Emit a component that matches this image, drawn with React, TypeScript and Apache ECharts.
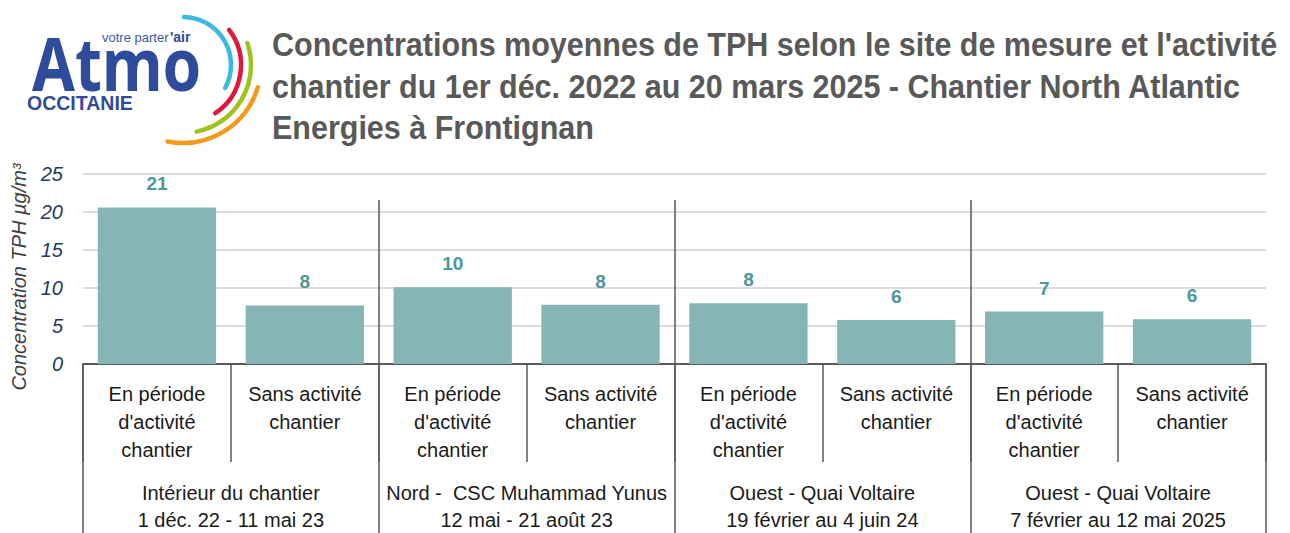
import React, { useEffect, useRef } from "react";
import * as echarts from "echarts";

const FONT = "'Liberation Sans', Arial, sans-serif";

const titleText =
  "Concentrations moyennes de TPH selon le site de mesure et l'activité\nchantier du 1er déc. 2022 au 20 mars 2025 - Chantier North Atlantic\nEnergies à Frontignan";

const subCategories = [
  "En période\nd'activité\nchantier",
  "Sans activité\nchantier",
  "En période\nd'activité\nchantier",
  "Sans activité\nchantier",
  "En période\nd'activité\nchantier",
  "Sans activité\nchantier",
  "En période\nd'activité\nchantier",
  "Sans activité\nchantier",
];

const groupLabels = [
  "Intérieur du chantier\n1 déc. 22 - 11 mai 23",
  "Nord -  CSC Muhammad Yunus\n12 mai - 21 août 23",
  "Ouest - Quai Voltaire\n19 février au 4 juin 24",
  "Ouest - Quai Voltaire\n7 février au 12 mai 2025",
];

const values = [20.6, 7.7, 10.1, 7.8, 8.0, 5.8, 6.9, 5.9];

const yMin = 0;
const yMax = 25;
const yStep = 5;

const yTitle = "Concentration TPH µg/m³";

export default function App() {
  const ref = useRef<HTMLDivElement>(null);

  useEffect(() => {
    if (!ref.current) return;
    const chart = echarts.init(ref.current, undefined, { renderer: "svg" });

    const logoArcs = [
      { cx: 183, cy: 65, r: 48, s: -1.55, e: 0.5, color: "#3db7e4" },
      { cx: 183, cy: 65, r: 58, s: -0.65, e: 0.98, color: "#e1183d" },
      { cx: 183, cy: 65, r: 68, s: -0.33, e: 1.37, color: "#9dc41d" },
      { cx: 183, cy: 65, r: 78, s: 0.29, e: 1.77, color: "#f39a1b" },
    ];

    const option: any = {
      animation: false,
      grid: [
        { left: 83, right: 24, top: 174, bottom: 169 },
        { left: 83, right: 24, top: 200, bottom: 169 },
      ],
      xAxis: [
        {
          type: "category",
          gridIndex: 0,
          data: subCategories,
          axisLine: { show: true, lineStyle: { color: "#595959", width: 2 } },
          axisTick: {
            show: true,
            length: 98,
            interval: 0,
            lineStyle: { color: "#595959", width: 1.5 },
          },
          axisLabel: {
            interval: 0,
            fontFamily: FONT,
            fontSize: 20,
            lineHeight: 28,
            color: "#1a1a1a",
            margin: 16,
          },
          splitLine: { show: false },
        },
        {
          type: "category",
          gridIndex: 1,
          data: groupLabels,
          axisLine: { show: false },
          axisTick: {
            show: true,
            length: 169,
            interval: 0,
            lineStyle: { color: "#595959", width: 1.5 },
          },
          axisLabel: {
            interval: 0,
            fontFamily: FONT,
            fontSize: 20,
            lineHeight: 27,
            color: "#1a1a1a",
            margin: 115,
          },
          splitLine: {
            show: true,
            interval: 0,
            showMinLine: false,
            showMaxLine: false,
            lineStyle: { color: "#595959", width: 1.5 },
          },
        },
      ],
      yAxis: [
        {
          type: "value",
          gridIndex: 0,
          min: yMin,
          max: yMax,
          interval: yStep,
          axisLine: { show: false },
          axisTick: { show: false },
          axisLabel: {
            fontFamily: FONT,
            fontSize: 20,
            fontStyle: "italic",
            color: "#1f3b5e",
            margin: 20,
          },
          splitLine: { lineStyle: { color: "#dcdcdc", width: 2 } },
          name: yTitle,
          nameLocation: "middle",
          nameGap: 54,
          nameTextStyle: {
            fontFamily: FONT,
            fontSize: 20,
            fontStyle: "italic",
            color: "#404040",
            padding: [0, 16, 0, 0],
          },
        },
        { type: "value", gridIndex: 1, show: false, min: 0, max: 1 },
      ],
      series: [
        {
          type: "bar",
          xAxisIndex: 0,
          yAxisIndex: 0,
          data: values,
          barCategoryGap: "20%",
          itemStyle: { color: "#85b5b5" },
          label: {
            show: true,
            position: "top",
            distance: 14,
            formatter: (p: any) => String(Math.round(p.value)),
            fontFamily: FONT,
            fontSize: 19,
            fontWeight: "bold",
            color: "#4e9896",
          },
        },
      ],
      graphic: [
        {
          type: "text",
          x: 272,
          y: 24,
          scaleY: 1.1,
          style: {
            text: titleText,
            x: 0,
            y: 0,
            fontFamily: FONT,
            fontSize: 30.5,
            fontWeight: "bold",
            fill: "#595959",
            lineHeight: 37.7,
            verticalAlign: "top",
          },
        },
        ...logoArcs.map((a) => ({
          type: "arc",
          shape: { cx: a.cx, cy: a.cy, r: a.r, startAngle: a.s, endAngle: a.e, clockwise: true },
          style: { stroke: a.color, lineWidth: 4.5, fill: null, lineCap: "round" },
        })),
        {
          type: "text",
          x: 32,
          y: 62,
          scaleX: 0.84,
          style: {
            text: "Atmo",
            fontFamily: "'Noto Sans', sans-serif",
            fontWeight: "bold",
            fontSize: 74,
            fill: "#2f4b9c",
            verticalAlign: "middle",
          },
        },
        {
          type: "text",
          x: 102,
          y: 37,
          style: {
            text: "votre parter",
            fontFamily: FONT,
            fontSize: 13,
            fill: "#3a5aa8",
            verticalAlign: "middle",
          },
        },
        {
          type: "text",
          x: 170,
          y: 37,
          style: {
            text: "'air",
            fontFamily: FONT,
            fontWeight: "bold",
            fontSize: 14,
            fill: "#2f4b9c",
            verticalAlign: "middle",
          },
        },
        {
          type: "text",
          x: 27,
          y: 103,
          style: {
            text: "OCCITANIE",
            fontFamily: FONT,
            fontWeight: "bold",
            fontSize: 19.5,
            fill: "#2f4b9c",
            verticalAlign: "middle",
          },
        },
      ],
    };

    chart.setOption(option);
    return () => chart.dispose();
  }, []);

  return (
    <div
      ref={ref}
      style={{ position: "fixed", left: 0, top: 0, width: 1290, height: 533, background: "#ffffff" }}
    />
  );
}
